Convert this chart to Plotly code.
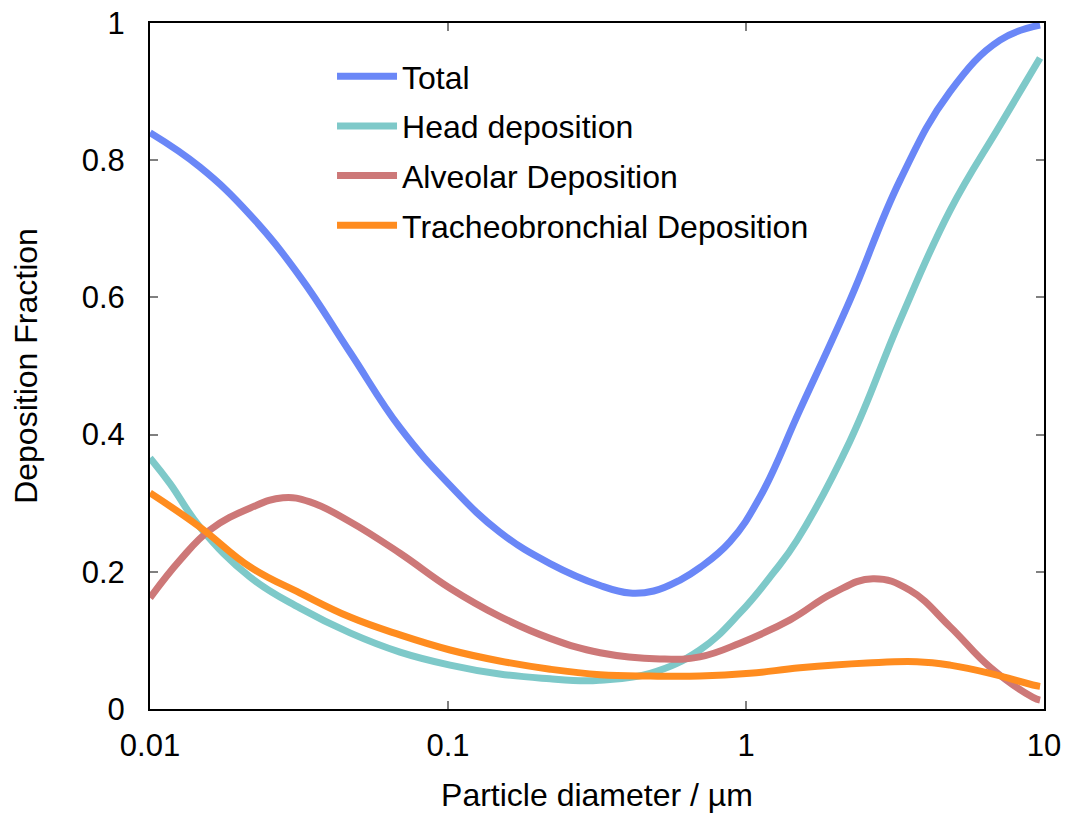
import plotly.graph_objects as go

# Particle diameters (µm) sampled along each curve
d_total = [0.01, 0.0147, 0.0217, 0.0319, 0.0469, 0.069, 0.1016, 0.149, 0.22, 0.324, 0.408, 0.49, 0.601, 0.70, 0.884, 1.114, 1.517, 2.233, 3.29, 4.84, 7.12, 9.7]
total = [0.84, 0.79, 0.72, 0.63, 0.52, 0.41, 0.326, 0.258, 0.212, 0.18, 0.169, 0.172, 0.188, 0.206, 0.244, 0.309, 0.436, 0.596, 0.771, 0.90, 0.975, 0.997]

d_head = [0.01, 0.01166, 0.01472, 0.0217, 0.0319, 0.0469, 0.069, 0.1016, 0.149, 0.22, 0.29, 0.324, 0.477, 0.70, 0.954, 1.233, 1.483, 2.23, 3.29, 4.84, 7.12, 9.7]
head = [0.366, 0.329, 0.265, 0.192, 0.147, 0.111, 0.083, 0.064, 0.051, 0.044, 0.041, 0.042, 0.052, 0.086, 0.14, 0.198, 0.246, 0.39, 0.567, 0.727, 0.851, 0.949]

d_alv = [0.01, 0.01261, 0.01589, 0.0217, 0.02793, 0.03441, 0.0469, 0.069, 0.1016, 0.149, 0.22, 0.324, 0.514, 0.70, 0.954, 1.406, 1.959, 2.668, 3.548, 4.84, 6.59, 9.18, 9.7]
alveolar = [0.162, 0.217, 0.261, 0.293, 0.308, 0.302, 0.273, 0.227, 0.176, 0.135, 0.103, 0.082, 0.073, 0.076, 0.096, 0.13, 0.169, 0.19, 0.173, 0.12, 0.061, 0.017, 0.013]

d_tb = [0.01, 0.01472, 0.0217, 0.0319, 0.0469, 0.069, 0.1016, 0.149, 0.22, 0.324, 0.477, 0.70, 1.03, 1.517, 2.548, 3.747, 4.84, 6.59, 9.18, 9.7]
tracheo = [0.315, 0.265, 0.207, 0.169, 0.134, 0.108, 0.086, 0.07, 0.058, 0.05, 0.048, 0.048, 0.052, 0.06, 0.067, 0.069, 0.064, 0.052, 0.035, 0.033]

x_tickvals = [0.01, 0.1, 1, 10]
x_ticktext = ["0.01", "0.1", "1", "10"]
y_tickvals = [0, 0.2, 0.4, 0.6, 0.8, 1]
y_ticktext = ["0", "0.2", "0.4", "0.6", "0.8", "1"]

FONT = "Liberation Sans, Arial, sans-serif"

series = [
    ("Total", d_total, total, "#6a87f7"),
    ("Head deposition", d_head, head, "#7ec9c9"),
    ("Alveolar Deposition", d_alv, alveolar, "#cd7878"),
    ("Tracheobronchial Deposition", d_tb, tracheo, "#ff8c1f"),
]

fig = go.Figure()
for i, (name, xs, ys, col) in enumerate(series):
    fig.add_trace(go.Scatter(
        x=xs, y=ys, mode="lines", name=name, legendgroup=f"g{i}",
        line=dict(color=col, width=7, shape="spline", smoothing=1.2),
    ))

axis_common = dict(
    showline=True, linecolor="black", linewidth=2, mirror="ticks",
    ticks="inside", ticklen=8, tickcolor="#808080", tickwidth=2,
    showgrid=False, zeroline=False, automargin=False,
    ticklabeloverflow="allow",
    tickfont=dict(family=FONT, size=31, color="black"),
)

fig.update_xaxes(
    type="log", range=[-2, 1], tickvals=x_tickvals, ticktext=x_ticktext,
    ticklabelstandoff=8,
    title=dict(text="Particle diameter / µm", font=dict(family=FONT, size=32, color="black"), standoff=26),
    **axis_common,
)
fig.update_yaxes(
    range=[0, 1], tickvals=y_tickvals, ticktext=y_ticktext,
    ticklabelstandoff=17,
    title=dict(text="Deposition Fraction", font=dict(family=FONT, size=32, color="black"), standoff=36),
    **axis_common,
)

# page body has an 8px margin, so the figure is sized to fit the 1080x813 window
fig.update_layout(
    width=1072, height=805,
    margin=dict(l=142, r=36, t=15, b=104),
    paper_bgcolor="white", plot_bgcolor="white",
    showlegend=True,
    legend=dict(
        x=0.2036, y=0.962, xanchor="left", yanchor="top",
        font=dict(family=FONT, size=32, color="black"),
        bgcolor="rgba(0,0,0,0)", tracegroupgap=5, itemwidth=60,
    ),
)

fig.write_html("out.html")
